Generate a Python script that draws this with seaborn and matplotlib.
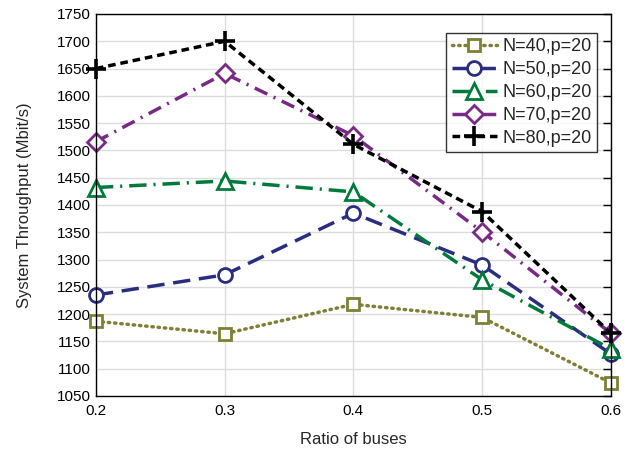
import matplotlib
matplotlib.use("Agg")
import matplotlib.pyplot as plt
from matplotlib.ticker import MultipleLocator
import seaborn as sns
import pandas as pd

ratios = [0.2, 0.3, 0.4, 0.5, 0.6]
series_names = ["N=40,p=20", "N=50,p=20", "N=60,p=20", "N=70,p=20", "N=80,p=20"]
n40 = [1187, 1164, 1218, 1194, 1074]
n50 = [1235, 1272, 1385, 1290, 1127]
n60 = [1432, 1444, 1424, 1263, 1136]
n70 = [1516, 1641, 1527, 1351, 1165]
n80 = [1650, 1700, 1511, 1388, 1165]
values = [n40, n50, n60, n70, n80]

colors = ["#7f7f36", "#2a2d80", "#007a3a", "#782a86", "#000000"]
marker_list = ["s", "o", "^", "D", "+"]
dash_list = [(0.4, 1.4), (5, 2.5), (5, 2, 0.6, 2), (4, 2, 0.6, 2), (2.2, 1.4)]
size_list = [9, 10, 11, 9, 14]

sns.set_style("white")
plt.rcParams["font.family"] = ["Liberation Sans", "DejaVu Sans"]

fig = plt.figure(figsize=(6.31, 4.51), dpi=100)
ax = fig.add_axes([0.152, 0.122, 0.816, 0.847])

for name, vals, c, m, d, s in zip(series_names, values, colors, marker_list, dash_list, size_list):
    df = pd.DataFrame({"ratio": ratios, "thr": vals})
    sns.lineplot(data=df, x="ratio", y="thr", ax=ax, color=c, linewidth=2.5,
                 legend=False)
    line = ax.lines[-1]
    line.set_marker(m)
    line.set_markersize(s)
    line.set_markerfacecolor("white")
    line.set_markeredgecolor(c)
    line.set_markeredgewidth(2.0 if m != "+" else 2.6)
    line.set_dashes(d)
    if m == "s":
        line.set_dash_capstyle("round")
    line.set_clip_on(False)
    line.set_label(name)

ax.set_xlim(0.2, 0.6)
ax.set_ylim(1050, 1750)
ax.xaxis.set_major_locator(MultipleLocator(0.1))
ax.xaxis.set_minor_locator(MultipleLocator(0.05))
ax.yaxis.set_major_locator(MultipleLocator(50))
ax.yaxis.set_minor_locator(MultipleLocator(25))
ax.xaxis.set_major_formatter(plt.FuncFormatter(lambda v, p: f"{v:.1f}"))
ax.grid(True, which="major", color="#dcdcdc", linewidth=1.0)
ax.set_axisbelow(True)
for sp in ax.spines.values():
    sp.set_color("black")
    sp.set_linewidth(1.0)
ax.tick_params(which="both", direction="in", top=False, right=True, colors="black",
               labelsize=11)
ax.tick_params(which="major", length=6, width=1)
ax.tick_params(which="minor", length=3.5, width=1)
ax.tick_params(which="minor", axis="y", right=False)
ax.tick_params(axis="x", pad=6)

ax.set_xlabel("Ratio of buses", fontsize=12, labelpad=10)
ax.set_ylabel("System Throughput (Mbit/s)", fontsize=12, labelpad=18)

leg = ax.legend(ax.lines, series_names, loc="upper right", bbox_to_anchor=(0.973, 0.950),
                fontsize=13, frameon=True, fancybox=False, handlelength=2.5,
                borderpad=0.3, labelspacing=0.32, handletextpad=0.3, borderaxespad=0.0)
leg.get_frame().set_edgecolor("black")
leg.get_frame().set_linewidth(1.0)

fig.savefig("out.png", dpi=100)
